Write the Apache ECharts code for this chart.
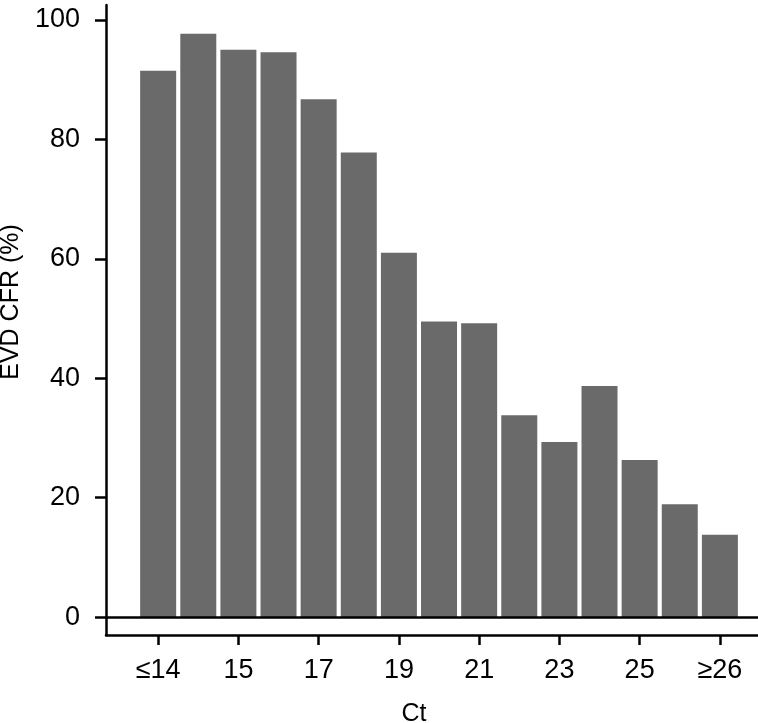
<!DOCTYPE html>
<html lang="en">

<head>
  <meta charset="UTF-8">
  <title>EVD CFR by Ct</title>
</head>

<body style="margin:0;">
  <div id="main" style="width: 758px;height:723px;"></div>
  <script src="https://cdn.jsdelivr.net/npm/echarts@6/dist/echarts.min.js"></script>
  <script>
    // 数据
    const ctIndex = [0, 1, 2, 3, 4, 5, 6, 7, 8, 9, 10, 11, 12, 13, 14];
    const cfrValues = [91.5, 97.7, 95.0, 94.6, 86.7, 77.8, 61.0, 49.5, 49.2, 33.8, 29.3, 38.7, 26.3, 18.9, 13.8];
    const xTickPos = [0, 2, 4, 6, 8, 10, 12, 14];
    const xTickLabels = ['≤14', '15', '17', '19', '21', '23', '25', '≥26'];
    const yTicks = [0, 20, 40, 60, 80, 100];

    const font = "'Liberation Sans', Arial, sans-serif";
    const axisColor = '#000';

    const myChart = echarts.init(document.getElementById('main'));

    const option = {
      animation: false,
      grid: {
        left: 106,
        right: 0,
        top: 5,
        bottom: 88,
        outerBoundsMode: 'none'
      },
      xAxis: {
        type: 'value',
        min: -1.3,
        max: 14.95,
        name: 'Ct',
        nameLocation: 'middle',
        nameGap: 67,
        nameTextStyle: {
          fontFamily: font,
          fontSize: 25,
          color: '#000',
          padding: [0, 36, 0, 0]
        },
        splitLine: { show: false },
        axisLine: { show: true, onZero: false, lineStyle: { color: axisColor, width: 2.5 } },
        axisTick: {
          show: true,
          length: 10,
          customValues: xTickPos,
          lineStyle: { color: axisColor, width: 2.5 }
        },
        axisLabel: {
          customValues: xTickPos,
          margin: 22,
          fontFamily: font,
          fontSize: 27,
          color: '#000',
          formatter: (v) => xTickLabels[xTickPos.indexOf(Math.round(v))]
        }
      },
      yAxis: {
        type: 'value',
        min: -3,
        max: 102.5,
        name: 'EVD CFR (%)',
        nameLocation: 'middle',
        nameGap: 72,
        nameTextStyle: {
          fontFamily: font,
          fontSize: 25,
          color: '#000',
          padding: [0, 0, 0, 36]
        },
        splitLine: { show: false },
        axisLine: { show: true, onZero: false, lineStyle: { color: axisColor, width: 2.5 } },
        axisTick: {
          show: true,
          length: 11,
          customValues: yTicks,
          lineStyle: { color: axisColor, width: 2.5 }
        },
        axisLabel: {
          customValues: yTicks,
          margin: 26,
          fontFamily: font,
          fontSize: 27,
          color: '#000'
        }
      },
      series: [{
        type: 'bar',
        barWidth: 36,
        itemStyle: { color: '#6a6a6a' },
        data: ctIndex.map((i) => [i, cfrValues[i]]),
        markLine: {
          silent: true,
          symbol: 'none',
          label: { show: false },
          lineStyle: { color: axisColor, width: 2.5, type: 'solid' },
          data: [{ yAxis: 0 }]
        }
      }]
    };

    myChart.setOption(option);
  </script>
</body>

</html>
